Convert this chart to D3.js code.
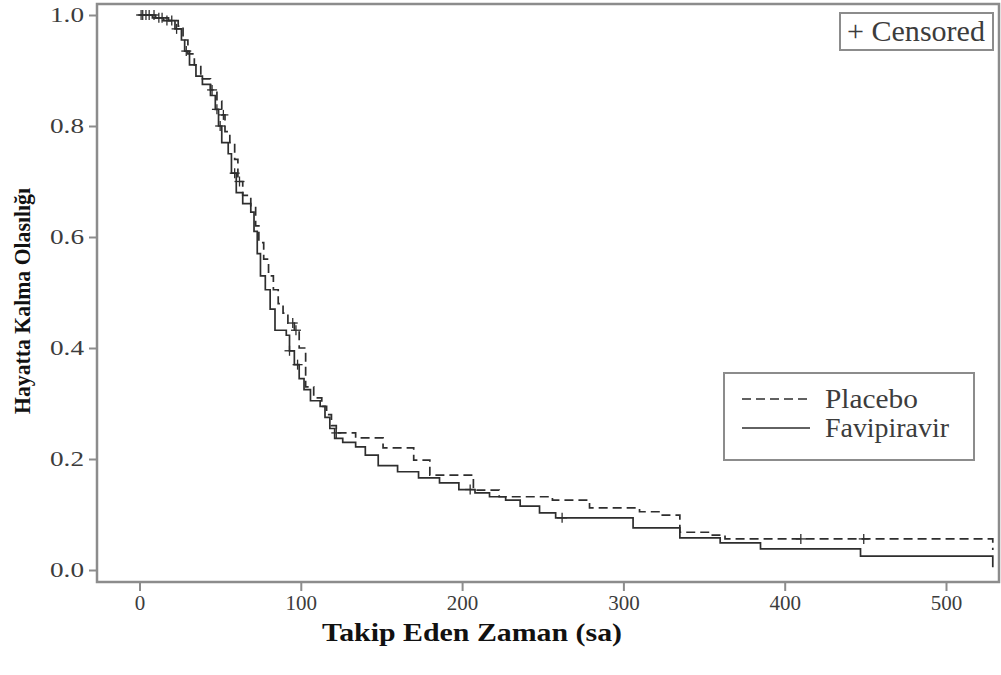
<!DOCTYPE html>
<html><head><meta charset="utf-8">
<script src="https://cdn.jsdelivr.net/npm/d3@7/dist/d3.min.js"></script>
<style>
html,body{margin:0;padding:0;background:#fff;}
svg{display:block;}
</style></head>
<body>
<svg id="chart" width="1001" height="675"></svg>
<script>
// ---- data ----
const xTicks = [0, 100, 200, 300, 400, 500];
const yTicks = [0.0, 0.2, 0.4, 0.6, 0.8, 1.0];
const seriesNames = ["Placebo", "Favipiravir"];
const placeboTime = [0,10,18,24,27,30,34,38,44,48,51,53,56,59,61,64,69,72,74,77,80,83,86,89,92,96,99,103,108,113,116,119,122,134,151,170,180,207,223,256,279,310,323,335,354,363,529];
const placeboSurv = [1.0,0.995,0.99,0.98,0.955,0.93,0.91,0.885,0.865,0.845,0.82,0.79,0.77,0.74,0.70,0.675,0.655,0.62,0.59,0.56,0.53,0.505,0.48,0.463,0.445,0.432,0.40,0.33,0.31,0.295,0.28,0.26,0.247,0.238,0.22,0.198,0.171,0.144,0.132,0.126,0.112,0.105,0.099,0.068,0.063,0.056,0.036];
const favTime = [0,8,15,22,26,28,31,35,39,44,47,49,51,55,57,60,64,69,71,73,75,78,81,84,91,93,96,99,102,106,112,115,118,121,126,134,140,148,160,173,186,198,208,217,227,236,248,258,306,335,360,385,447,529];
const favSurv = [1.0,0.995,0.99,0.975,0.955,0.935,0.91,0.89,0.875,0.855,0.83,0.80,0.77,0.75,0.715,0.68,0.66,0.645,0.61,0.57,0.53,0.505,0.47,0.432,0.423,0.395,0.37,0.345,0.325,0.305,0.295,0.275,0.255,0.237,0.230,0.222,0.207,0.188,0.177,0.166,0.157,0.145,0.139,0.132,0.126,0.115,0.103,0.094,0.076,0.058,0.049,0.038,0.025,0.005];
const placeboCensor = [1,4,9,14,20,45,52,62,95,97,122,410,449];
const favCensor = [2,6,12,17,23,29,48,50,59,93,98,205,262];

const svg = d3.select("#chart");
const frame = {left: 97, top: 4, right: 999, bottom: 582};
const x = d3.scaleLinear().domain([0, 500]).range([139.5, 946]);
const y = d3.scaleLinear().domain([0, 1]).range([570, 15]);

const axisColor = "#8c8c8c";
const textGray = "#3c3c3c";
const lineColor = "#2e2e2e";
const serif = "'Liberation Serif','Times New Roman',serif";

// frame
svg.append("rect").attr("x", frame.left).attr("y", frame.top)
  .attr("width", frame.right - frame.left).attr("height", frame.bottom - frame.top)
  .attr("fill", "none").attr("stroke", axisColor).attr("stroke-width", 2.5);

// axes
const xAxis = d3.axisBottom(x).tickValues(xTicks).tickSize(9).tickPadding(4).tickFormat(d3.format("d"));
const gx = svg.append("g").attr("transform", `translate(0,${frame.bottom})`).call(xAxis);
gx.select(".domain").remove();
gx.selectAll(".tick line").attr("stroke", axisColor).attr("stroke-width", 2);
gx.selectAll(".tick text").attr("fill", textGray).attr("font-family", serif).attr("font-size", 21);

const yAxis = d3.axisLeft(y).tickValues(yTicks).tickSize(8).tickPadding(5).tickFormat(d3.format(".1f"));
const gy = svg.append("g").attr("transform", `translate(${frame.left},0)`).call(yAxis);
gy.select(".domain").remove();
gy.selectAll(".tick line").attr("stroke", axisColor).attr("stroke-width", 2);
gy.selectAll(".tick text").attr("fill", textGray).attr("font-family", serif).attr("font-size", 21)
  .attr("textLength", 34).attr("lengthAdjust", "spacingAndGlyphs");

// axis titles
svg.append("text").attr("x", 472).attr("y", 641).attr("text-anchor", "middle")
  .attr("font-family", serif).attr("font-weight", "bold").attr("font-size", 26).attr("fill", "#111")
  .attr("textLength", 300).attr("lengthAdjust", "spacingAndGlyphs")
  .text("Takip Eden Zaman (sa)");
svg.append("text").attr("transform", "translate(30,301) rotate(-90)").attr("text-anchor", "middle")
  .attr("font-family", serif).attr("font-weight", "bold").attr("font-size", 24).attr("fill", "#111")
  .attr("textLength", 226).attr("lengthAdjust", "spacingAndGlyphs")
  .text("Hayatta Kalma Olasılığı");

// curves
const placebo = placeboTime.map((t, i) => ({t, s: placeboSurv[i]}));
const fav = favTime.map((t, i) => ({t, s: favSurv[i]}));
const line = d3.line().x(d => x(d.t)).y(d => y(d.s)).curve(d3.curveStepAfter);

svg.append("path").datum(fav).attr("d", line).attr("fill", "none")
  .attr("stroke", lineColor).attr("stroke-width", 1.7);
svg.append("path").datum(placebo).attr("d", line).attr("fill", "none")
  .attr("stroke", lineColor).attr("stroke-width", 1.7).attr("stroke-dasharray", "9,5");

function survAt(series, t) {
  let s = series[0].s;
  for (const d of series) { if (d.t <= t) s = d.s; else break; }
  return s;
}
function drawCensor(series, times) {
  const g = svg.append("g").attr("stroke", lineColor).attr("stroke-width", 1.3);
  times.forEach(t => {
    const cx = x(t), cy = y(survAt(series, t));
    g.append("line").attr("x1", cx - 5).attr("x2", cx + 5).attr("y1", cy).attr("y2", cy);
    g.append("line").attr("x1", cx).attr("x2", cx).attr("y1", cy - 5).attr("y2", cy + 5);
  });
}
drawCensor(placebo, placeboCensor);
drawCensor(fav, favCensor);

// censored box
svg.append("rect").attr("x", 840).attr("y", 13).attr("width", 153).attr("height", 37)
  .attr("fill", "#fff").attr("stroke", axisColor).attr("stroke-width", 2);
svg.append("text").attr("x", 847).attr("y", 41).attr("font-family", serif).attr("font-size", 29)
  .attr("fill", textGray).attr("textLength", 138).attr("lengthAdjust", "spacingAndGlyphs")
  .text("+ Censored");

// legend
const lg = svg.append("g");
lg.append("rect").attr("x", 724).attr("y", 373).attr("width", 250).attr("height", 87)
  .attr("fill", "#fff").attr("stroke", axisColor).attr("stroke-width", 2);
const legY = [399, 428];
const legLen = [93, 124];
seriesNames.forEach((name, i) => {
  lg.append("line").attr("x1", 742).attr("x2", 810).attr("y1", legY[i]).attr("y2", legY[i])
    .attr("stroke", lineColor).attr("stroke-width", 1.7)
    .attr("stroke-dasharray", i === 0 ? "9,5" : null);
  lg.append("text").attr("x", 825).attr("y", legY[i] + 9).attr("font-family", serif)
    .attr("font-size", 28).attr("fill", textGray)
    .attr("textLength", legLen[i]).attr("lengthAdjust", "spacingAndGlyphs").text(name);
});
</script>
</body></html>
